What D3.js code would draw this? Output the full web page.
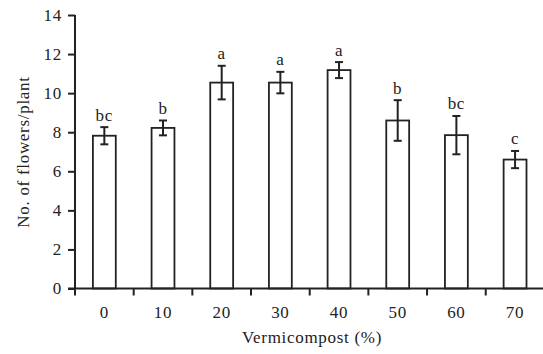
<!DOCTYPE html>
<html>
<head>
<meta charset="utf-8">
<script src="https://cdn.jsdelivr.net/npm/d3@7"></script>
<style>
  body { margin: 0; background: #fff; }
  text { font-family: "Liberation Serif", "DejaVu Serif", serif; fill: #222; }
</style>
</head>
<body>
<div id="chart"></div>
<script>
// values
var categories = ["0", "10", "20", "30", "40", "50", "60", "70"];
var flowers = [7.82, 8.22, 10.54, 10.54, 11.18, 8.6, 7.85, 6.6];
var errors = [0.44, 0.38, 0.86, 0.55, 0.41, 1.04, 0.98, 0.44];
var letters = ["bc", "b", "a", "a", "a", "b", "bc", "c"];
var yTicks = [0, 2, 4, 6, 8, 10, 12, 14];

var width = 543, height = 354;
var margin = {top: 15, right: 0, bottom: 65.5, left: 75};
var innerW = 469.4;
var innerH = height - margin.top - margin.bottom;
var fontSize = "17px";
var spacing = "0.7px";

var svg = d3.select("#chart").append("svg")
    .attr("width", width)
    .attr("height", height);

var g = svg.append("g")
    .attr("transform", "translate(" + margin.left + "," + margin.top + ")");

var x = d3.scaleBand().domain(categories).range([0, innerW]);
var y = d3.scaleLinear().domain([0, 14]).range([innerH, 0]);

var barW = x.bandwidth() * 0.39;
var ink = "#222";

// bars
g.selectAll(".bar")
    .data(flowers)
    .enter().append("rect")
    .attr("class", "bar")
    .attr("x", function(d, i) { return x(categories[i]) + x.bandwidth() / 2 - barW / 2; })
    .attr("y", function(d) { return y(d); })
    .attr("width", barW)
    .attr("height", function(d) { return innerH - y(d); })
    .attr("fill", "#fff")
    .attr("stroke", ink)
    .attr("stroke-width", 1.8);

// error bars
var capW = 8;
var eb = g.selectAll(".err")
    .data(flowers)
    .enter().append("g")
    .attr("class", "err")
    .attr("stroke", ink)
    .attr("stroke-width", 2);

eb.append("line")
    .attr("x1", function(d, i) { return x(categories[i]) + x.bandwidth() / 2; })
    .attr("x2", function(d, i) { return x(categories[i]) + x.bandwidth() / 2; })
    .attr("y1", function(d, i) { return y(d + errors[i]); })
    .attr("y2", function(d, i) { return y(d - errors[i]); });
eb.append("line")
    .attr("x1", function(d, i) { return x(categories[i]) + x.bandwidth() / 2 - capW / 2; })
    .attr("x2", function(d, i) { return x(categories[i]) + x.bandwidth() / 2 + capW / 2; })
    .attr("y1", function(d, i) { return y(d + errors[i]); })
    .attr("y2", function(d, i) { return y(d + errors[i]); });
eb.append("line")
    .attr("x1", function(d, i) { return x(categories[i]) + x.bandwidth() / 2 - capW / 2; })
    .attr("x2", function(d, i) { return x(categories[i]) + x.bandwidth() / 2 + capW / 2; })
    .attr("y1", function(d, i) { return y(d - errors[i]); })
    .attr("y2", function(d, i) { return y(d - errors[i]); });

// letters above bars
g.selectAll(".letter")
    .data(flowers)
    .enter().append("text")
    .attr("class", "letter")
    .attr("x", function(d, i) { return x(categories[i]) + x.bandwidth() / 2; })
    .attr("y", function(d, i) { return y(d + errors[i]) - 6.5; })
    .attr("text-anchor", "middle")
    .style("font-size", fontSize)
    .style("letter-spacing", spacing)
    .text(function(d, i) { return letters[i]; });

// y axis
var yAxis = g.append("g")
    .call(d3.axisLeft(y).tickValues(yTicks).tickSize(7).tickPadding(6).tickSizeOuter(0));
yAxis.select(".domain").attr("stroke", ink).attr("stroke-width", 2)
    .attr("d", "M0," + (innerH + 7) + "V0");
yAxis.selectAll(".tick line").attr("stroke", ink).attr("stroke-width", 2);
yAxis.selectAll(".tick text")
    .style("font-family", "Liberation Serif, serif")
    .style("font-size", fontSize)
    .style("letter-spacing", spacing)
    .attr("fill", ink);

// x axis: ticks between categories, labels centred
var xAxis = g.append("g")
    .attr("transform", "translate(0," + innerH + ")");
xAxis.append("line")
    .attr("x1", -7).attr("x2", innerW)
    .attr("stroke", ink).attr("stroke-width", 2);
xAxis.selectAll(".xtick")
    .data(categories.slice(1))
    .enter().append("line")
    .attr("x1", function(d) { return x(d); })
    .attr("x2", function(d) { return x(d); })
    .attr("y1", 0).attr("y2", 7)
    .attr("stroke", ink).attr("stroke-width", 2);
xAxis.selectAll(".xlabel")
    .data(categories)
    .enter().append("text")
    .attr("x", function(d) { return x(d) + x.bandwidth() / 2; })
    .attr("y", 29)
    .attr("text-anchor", "middle")
    .style("font-size", fontSize)
    .style("letter-spacing", spacing)
    .text(function(d) { return d; });

// axis titles
svg.append("text")
    .attr("x", 312)
    .attr("y", 343)
    .attr("text-anchor", "middle")
    .style("font-size", fontSize)
    .style("letter-spacing", spacing)
    .text("Vermicompost (%)");

svg.append("text")
    .attr("transform", "translate(29," + 152 + ") rotate(-90)")
    .attr("text-anchor", "middle")
    .style("font-size", fontSize)
    .style("letter-spacing", spacing)
    .text("No. of flowers/plant");
</script>
</body>
</html>
